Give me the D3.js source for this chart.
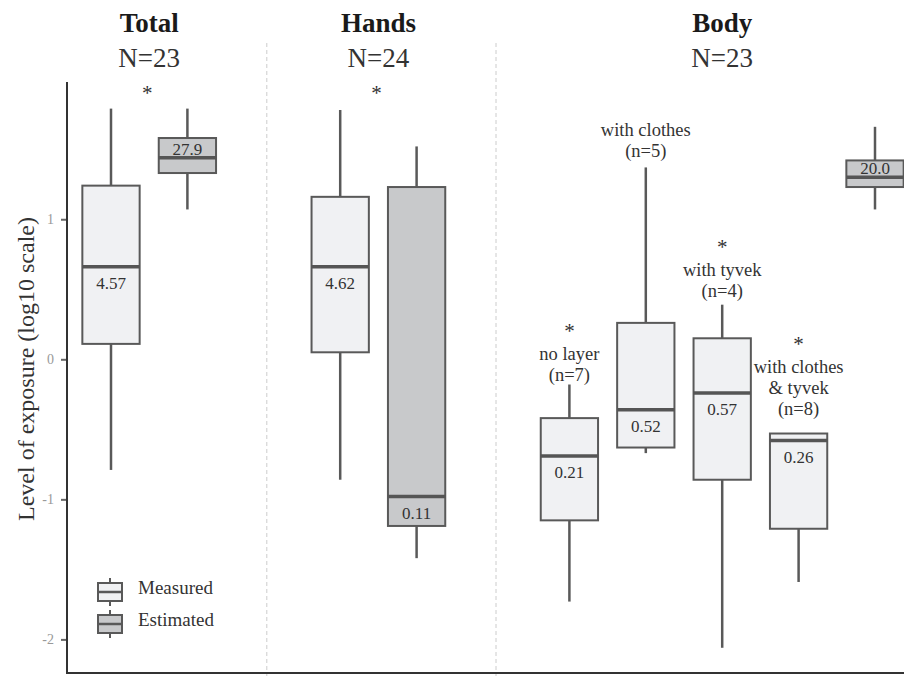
<!DOCTYPE html>
<meta charset="utf-8">
<style>
body { margin: 0; background: #fff; }
svg text { font-family: "Liberation Serif", "DejaVu Serif", serif; fill: #333; }
.title { font-weight: bold; font-size: 27px; fill: #1a1a1a; }
.ncount { font-size: 27px; }
.star { font-size: 21px; }
.val { font-size: 17px; }
.annot { font-size: 18.5px; }
.legend text { font-size: 19px; }
.axis-title { font-size: 24px; }
.y.axis text { font-size: 14px; fill: #999; }
.y.axis line { stroke: #666; stroke-width: 2; }
.y.axis path { display: none; }
.sep { stroke: #ccc; stroke-dasharray: 4,3; }
</style>
<body>
<script src="https://d3js.org/d3.v7.min.js"></script>
<script>

// slots along the x axis (gaps separate the panels)
var slots = ["Total-M","Total-E","gap1","Hands-M","Hands-E","gap2",
             "Body-none","Body-clothes","Body-tyvek","Body-both","Body-E"];

// boxes, log10 values
var boxKeys   = ["Total-M","Total-E","Hands-M","Hands-E","Body-none","Body-clothes","Body-tyvek","Body-both","Body-E"];
var boxType   = ["Measured","Estimated","Measured","Estimated","Measured","Measured","Measured","Measured","Estimated"];
var whiskLow  = [-0.79, 1.07, -0.86, -1.42, -1.73, -0.67, -2.06, -1.59, 1.07];
var q1        = [ 0.11, 1.33,  0.05, -1.19, -1.15, -0.63, -0.86, -1.21, 1.23];
var median    = [ 0.66, 1.44,  0.66, -0.98, -0.69, -0.36, -0.24, -0.58, 1.30];
var q3        = [ 1.24, 1.58,  1.16,  1.23, -0.42,  0.26,  0.15, -0.53, 1.42];
var whiskHigh = [ 1.79, 1.79,  1.78,  1.52, -0.18,  1.37,  0.39, -0.53, 1.66];
var medianLabels = ["4.57","27.9","4.62","0.11","0.21","0.52","0.57","0.26","20.0"];
var labelSide = ["below","above","below","below","below","below","below","below","above"];

// panels
var panelNames = ["Total","Hands","Body"];
var panelN     = ["N=23","N=24","N=23"];
var panelSlots = [["Total-M","Total-E"],["Hands-M","Hands-E"],["Body-none","Body-E"]];
var panelStar  = [true, true, false];

// body sub-group notes (last line sits at the given log10 level)
var noteKeys  = ["Body-none","Body-clothes","Body-tyvek","Body-both"];
var noteLines = [["*","no layer","(n=7)"],["with clothes","(n=5)"],["*","with tyvek","(n=4)"],["*","with clothes","& tyvek","(n=8)"]];
var noteLevel = [-0.155, 1.445, 0.445, -0.40];

var yTicks = [-2, -1, 0, 1];
var legendItems = ["Measured","Estimated"];
var fills = {Measured: "#f0f1f3", Estimated: "#c8c9cb"};

var width = 904, height = 676;

var svg = d3.select("body").append("svg")
    .attr("width", width)
    .attr("height", height);

var x = d3.scalePoint().domain(slots).range([111, 875]);
var boxW = x.step() * 0.75;

var y = d3.scaleLinear().domain([-2.24, 1.98]).range([673, 82]);

// panel separators
svg.selectAll(".sep").data(["gap1","gap2"]).enter()
  .append("line")
  .attr("class", "sep")
  .attr("x1", function(d){ return x(d) + 3; })
  .attr("x2", function(d){ return x(d) + 3; })
  .attr("y1", 43).attr("y2", height);

// y axis
var yAxis = d3.axisLeft(y).tickValues(yTicks).tickSize(5).tickPadding(7)
    .tickFormat(function(d){ return d < 0 ? "-" + Math.abs(d) : d; });
svg.append("g").attr("class", "y axis")
  .attr("transform", "translate(66,0)")
  .call(yAxis);

svg.append("line")
  .attr("x1", 67).attr("x2", 67)
  .attr("y1", y.range()[1]).attr("y2", y.range()[0] + 1)
  .attr("stroke", "#333").attr("stroke-width", 2);
svg.append("line")
  .attr("x1", 66).attr("x2", width)
  .attr("y1", y.range()[0]).attr("y2", y.range()[0])
  .attr("stroke", "#333").attr("stroke-width", 2);

svg.append("text").attr("class", "axis-title")
  .attr("transform", "translate(34,369) rotate(-90)")
  .attr("text-anchor", "middle")
  .text("Level of exposure (log10 scale)");

// boxes
var boxes = boxKeys.map(function(k, i){
  return {key: k, type: boxType[i], lo: whiskLow[i], q1: q1[i], med: median[i],
          q3: q3[i], hi: whiskHigh[i], label: medianLabels[i], side: labelSide[i]};
});

var g = svg.selectAll(".box").data(boxes).enter()
  .append("g").attr("class", "box")
  .attr("transform", function(d){ return "translate(" + x(d.key) + ",0)"; });

g.append("line")
  .attr("y1", function(d){ return y(d.hi); })
  .attr("y2", function(d){ return y(d.q3); })
  .attr("stroke", "#595959").attr("stroke-width", 2.5);
g.append("line")
  .attr("y1", function(d){ return y(d.q1); })
  .attr("y2", function(d){ return y(d.lo); })
  .attr("stroke", "#595959").attr("stroke-width", 2.5);
g.append("rect")
  .attr("x", -boxW / 2)
  .attr("width", boxW)
  .attr("y", function(d){ return y(d.q3); })
  .attr("height", function(d){ return y(d.q1) - y(d.q3); })
  .attr("fill", function(d){ return fills[d.type]; })
  .attr("stroke", "#595959").attr("stroke-width", 2);
g.append("line")
  .attr("x1", -boxW / 2).attr("x2", boxW / 2)
  .attr("y1", function(d){ return y(d.med); })
  .attr("y2", function(d){ return y(d.med); })
  .attr("stroke", "#555").attr("stroke-width", 3.5);
g.append("text").attr("class", "val")
  .attr("text-anchor", "middle")
  .attr("y", function(d){ return d.side == "below" ? y(d.med) + 22 : y(d.med) - 3; })
  .text(function(d){ return d.label; });

// panel headers
panelNames.forEach(function(name, i){
  var cx = (x(panelSlots[i][0]) + x(panelSlots[i][1])) / 2;
  svg.append("text").attr("class", "title")
    .attr("x", cx).attr("y", 32).attr("text-anchor", "middle").text(name);
  svg.append("text").attr("class", "ncount")
    .attr("x", cx).attr("y", 67).attr("text-anchor", "middle").text(panelN[i]);
  if (panelStar[i]) {
    svg.append("text").attr("class", "star")
      .attr("x", cx - 2).attr("y", 100).attr("text-anchor", "middle").text("*");
  }
});

// sub-group notes
noteKeys.forEach(function(k, i){
  var lines = noteLines[i];
  var base = y(noteLevel[i]);
  lines.forEach(function(t, j){
    svg.append("text").attr("class", t == "*" ? "star" : "annot")
      .attr("x", x(k))
      .attr("y", base - (lines.length - 1 - j) * 21 - (t == "*" ? 1 : 0))
      .attr("text-anchor", "middle")
      .text(t);
  });
});

// legend
var lg = svg.append("g").attr("class", "legend")
  .attr("transform", "translate(110,592)");
var li = lg.selectAll("g").data(legendItems).enter()
  .append("g").attr("transform", function(d, i){ return "translate(0," + i * 32 + ")"; });
li.append("line").attr("y1", -14).attr("y2", 14)
  .attr("stroke", "#595959").attr("stroke-width", 2);
li.append("rect").attr("x", -12).attr("y", -9).attr("width", 24).attr("height", 18)
  .attr("fill", function(d){ return fills[d]; })
  .attr("stroke", "#595959").attr("stroke-width", 2);
li.append("line").attr("x1", -12).attr("x2", 12)
  .attr("stroke", "#595959").attr("stroke-width", 2.5);
li.append("text").attr("x", 28).attr("y", 2).text(function(d){ return d; });

</script>
</body>
